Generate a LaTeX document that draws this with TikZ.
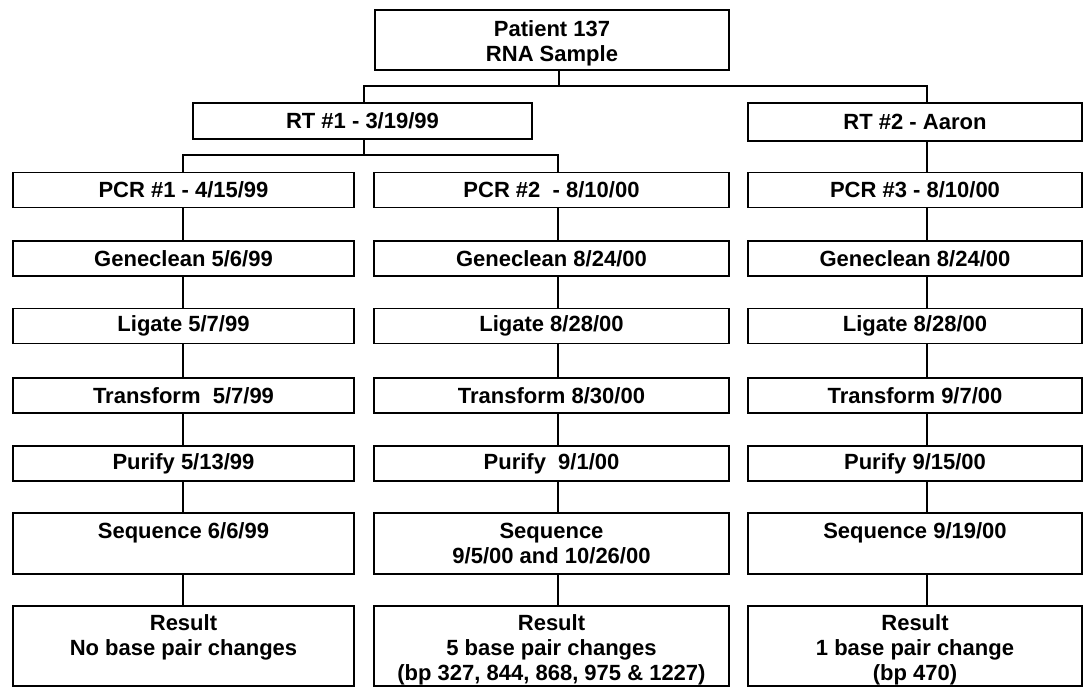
\documentclass[tikz,border=0pt]{standalone}
\usepackage{fontspec}
\setmainfont{Liberation Sans}
\begin{document}
\begin{tikzpicture}[x=1pt,y=-1pt,
  tx/.style={inner sep=0pt, align=center,
    font=\fontsize{22}{25}\selectfont\bfseries},
  box/.style={tx, draw, line width=1.5pt},
  col1/.style={box, minimum width=341pt},
  col2/.style={box, minimum width=355pt},
  col3/.style={box, minimum width=334pt},
  row/.style={minimum height=35pt},
  link/.style={line width=1.5pt}]
\useasboundingbox (0,0) rectangle (1087,688);
% column axes for connectors
\coordinate (c1) at (183,0);
\coordinate (c2) at (558,0);
\coordinate (c3) at (927,0);
\coordinate (b0) at (559,86);
\coordinate (b1) at (364,155);
% top
\node[box, minimum width=354pt, minimum height=60pt,
  label={[tx, yshift=-3pt]center:{Patient 137\\RNA Sample}}] (top) at (552,40) {};
% RT row
\node[box, minimum width=339pt, minimum height=36pt] (rt1) at (362.5,121) {RT \#1 - 3/19/99};
\node[col3, minimum height=38pt] (rt2) at (915,122) {RT \#2 - Aaron};
% column 1
\node[col1,row] (p1) at (183.5,190) {PCR \#1 - 4/15/99};
\node[col1,row] (g1) at (183.5,258.5) {Geneclean 5/6/99};
\node[col1,row] (l1) at (183.5,326) {Ligate 5/7/99};
\node[col1,row] (t1) at (183.5,395.5) {Transform~ 5/7/99};
\node[col1,row] (u1) at (183.5,463.5) {Purify 5/13/99};
\node[col1,minimum height=61pt] (s1) at (183.5,543.5) {Sequence 6/6/99\\\phantom{/}};
\node[col1,minimum height=80pt,
  label={[tx, yshift=-4pt]center:{Result\\No base pair changes\\\phantom{(}}}] (r1) at (183.5,646) {};
% column 2
\node[col2,row] (p2) at (551.5,190) {PCR \#2~ - 8/10/00};
\node[col2,row] (g2) at (551.5,258.5) {Geneclean 8/24/00};
\node[col2,row] (l2) at (551.5,326) {Ligate 8/28/00};
\node[col2,row] (t2) at (551.5,395.5) {Transform 8/30/00};
\node[col2,row] (u2) at (551.5,463.5) {Purify~ 9/1/00};
\node[col2,minimum height=61pt] (s2) at (551.5,543.5) {Sequence\\9/5/00 and 10/26/00};
\node[col2,minimum height=80pt,
  label={[tx, yshift=-4pt]center:{Result\\5 base pair changes\\(bp 327, 844, 868, 975 \& 1227)}}] (r2) at (551.5,646) {};
% column 3
\node[col3,row] (p3) at (915,190) {PCR \#3 - 8/10/00};
\node[col3,row] (g3) at (915,258.5) {Geneclean 8/24/00};
\node[col3,row] (l3) at (915,326) {Ligate 8/28/00};
\node[col3,row] (t3) at (915,395.5) {Transform 9/7/00};
\node[col3,row] (u3) at (915,463.5) {Purify 9/15/00};
\node[col3,minimum height=61pt] (s3) at (915,543.5) {Sequence 9/19/00\\\phantom{/}};
\node[col3,minimum height=80pt,
  label={[tx, yshift=-4pt]center:{Result\\1 base pair change\\(bp 470)}}] (r3) at (915,646) {};
% connectors
\draw[link] (top.south -| b0) -- (b0);
\draw[link] (rt1.north -| b1) |- (b0) -| (rt2.north -| c3);
\draw[link] (rt1.south -| b1) -- (b1);
\draw[link] (p1.north -| c1) |- (b1) -| (p2.north -| c2);
\draw[link] (rt2.south -| c3) -- (p3.north -| c3);
\foreach \c in {1,2,3}{
  \draw[link] (p\c.south -| c\c) -- (g\c.north -| c\c);
  \draw[link] (g\c.south -| c\c) -- (l\c.north -| c\c);
  \draw[link] (l\c.south -| c\c) -- (t\c.north -| c\c);
  \draw[link] (t\c.south -| c\c) -- (u\c.north -| c\c);
  \draw[link] (u\c.south -| c\c) -- (s\c.north -| c\c);
  \draw[link] (s\c.south -| c\c) -- (r\c.north -| c\c);
}
\end{tikzpicture}
\end{document}
